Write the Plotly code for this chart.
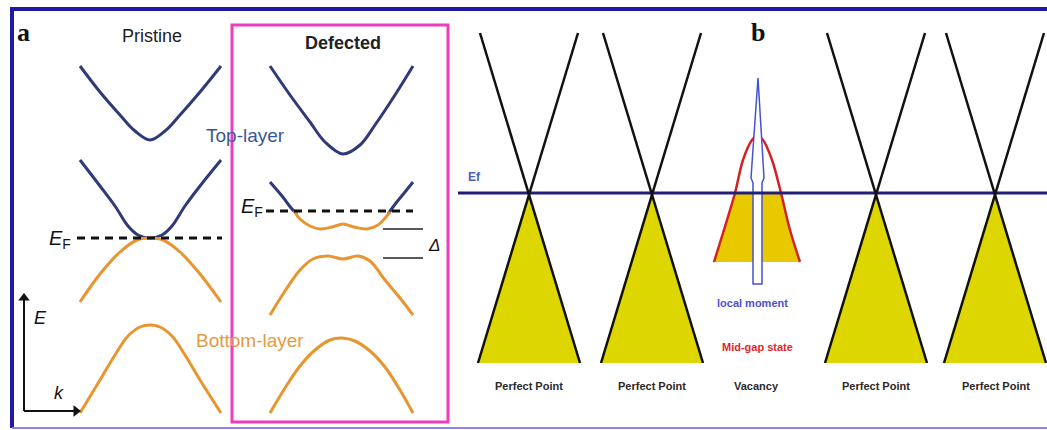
import plotly.graph_objects as go

# Canvas units: x to the right, y downward (0..1047 by 0..430)
W, H = 1047, 430

# ---------------- panel a: band diagrams ----------------
# Pristine bilayer
pristine_top_cb = [(80, 66), (100, 92), (120, 115), (135, 131), (150, 140),
                   (165, 131), (180, 115), (200, 92), (221, 66)]
pristine_low_cb = [(80, 160), (100, 186), (115, 206), (128, 226), (138, 235), (150, 238),
                   (162, 235), (172, 226), (185, 206), (200, 186), (221, 160)]
pristine_top_vb = [(80, 302), (100, 274), (120, 252), (137, 240), (150, 238),
                   (163, 240), (180, 252), (200, 274), (221, 302)]
pristine_low_vb = [(80, 413), (100, 380), (115, 355), (128, 336), (140, 327), (150, 325),
                   (160, 327), (172, 336), (185, 355), (200, 380), (221, 413)]

# Defected bilayer
defected_top_cb = [(270, 66), (290, 95), (310, 122), (325, 142), (343, 154),
                   (360, 145), (375, 125), (395, 95), (413, 66)]
defected_cb_left = [(270, 182), (282, 196), (292, 209), (297, 214)]
defected_midgap = [(294, 211), (300, 219), (310, 226), (320, 229), (332, 227), (343, 224),
                   (354, 227), (367, 229), (378, 225), (386, 217), (390, 212)]
defected_cb_right = [(388, 214), (396, 203), (405, 192), (413, 182)]
defected_top_vb = [(270, 315), (285, 291), (300, 270), (313, 259), (328, 256), (343, 259),
                   (358, 256), (370, 261), (385, 280), (400, 298), (413, 315)]
defected_low_vb = [(270, 413), (285, 388), (300, 366), (315, 350), (330, 340), (342, 338),
                   (355, 341), (370, 351), (385, 367), (400, 390), (413, 413)]

fermi_a_x = [(77, 222), (266, 413)]
fermi_a_y = [238, 211]
gap_levels = [229, 258]

# E-k axis corner and arrow tips
ek_origin = (24, 411)
ek_tips = [(24, 298), (76, 411)]
ek_tip_symbols = ["triangle-up", "triangle-right"]

# ---------------- panel b: Dirac cones ----------------
site_labels = ["Perfect Point", "Perfect Point", "Vacancy", "Perfect Point", "Perfect Point"]
site_x = [529, 652, 756, 876, 996]
cone_x = [529, 652, 876, 995]
ef_b = 193
cone_top, cone_base = 33, 363
cone_top_half, cone_base_half = 49, 51

midgap_curve = [(714, 262), (723, 233), (735, 193), (743, 160), (752, 140), (757, 136),
                (763, 140), (772, 160), (781, 193), (790, 230), (800, 262)]
midgap_fill = [(735, 193), (723, 233), (714, 262), (800, 262), (790, 230), (781, 193)]
moment_arrow = [(758, 78), (751, 178), (753, 183), (753, 284), (762, 284),
                (762, 183), (764, 178), (758, 78)]

NAVY = "#2e3b78"
ORANGE = "#e8952f"
YELLOW = "#ddd600"
GOLD = "#e8c900"

fig = go.Figure()


def curve(pts, color, width=3, shape="spline", dash=None, fill=None, fillcolor=None):
    fig.add_trace(go.Scatter(
        x=[p[0] for p in pts], y=[p[1] for p in pts], mode="lines",
        line=dict(color=color, width=width, shape=shape, dash=dash, smoothing=1.0),
        fill=fill, fillcolor=fillcolor, hoverinfo="skip", showlegend=False))


# panel a bands
for pts in [pristine_top_cb, pristine_low_cb, defected_top_cb, defected_cb_left, defected_cb_right]:
    curve(pts, NAVY)
for pts in [pristine_top_vb, pristine_low_vb, defected_midgap, defected_top_vb, defected_low_vb]:
    curve(pts, ORANGE)

for (x0, x1), y in zip(fermi_a_x, fermi_a_y):
    curve([(x0, y), (x1, y)], "#111111", width=3, shape="linear", dash="8px,6px")
for y in gap_levels:
    curve([(383, y), (423, y)], "#222222", width=1.5, shape="linear")

# E-k axes with arrow heads
for tip, sym in zip(ek_tips, ek_tip_symbols):
    curve([ek_origin, tip], "#111111", width=2, shape="linear")
    fig.add_trace(go.Scatter(x=[tip[0]], y=[tip[1]], mode="markers",
                             marker=dict(symbol=sym, size=10, color="#111111"),
                             hoverinfo="skip", showlegend=False))

# panel b: yellow filled valence cones
for cx in cone_x:
    curve([(cx, ef_b), (cx - cone_base_half, cone_base), (cx + cone_base_half, cone_base), (cx, ef_b)],
          YELLOW, width=0, shape="linear", fill="toself", fillcolor=YELLOW)
# vacancy mid-gap state
curve(midgap_fill, GOLD, width=0, shape="linear", fill="toself", fillcolor=GOLD)
curve(midgap_curve, "#d42222", width=2.5)
curve(moment_arrow, "#4652cf", width=1.5, shape="linear", fill="toself", fillcolor="#ffffff")

# Fermi level in panel b
curve([(458, ef_b), (W, ef_b)], "#231f78", width=3, shape="linear")

# cone branches
for cx in cone_x:
    curve([(cx - cone_top_half, cone_top), (cx + cone_base_half, cone_base)], "#111111", width=2.5, shape="linear")
    curve([(cx + cone_top_half, cone_top), (cx - cone_base_half, cone_base)], "#111111", width=2.5, shape="linear")

shapes = [
    dict(type="rect", x0=232, x1=448, y0=25, y1=422, line=dict(color="#ee3cbe", width=3)),
    dict(type="line", x0=10, x1=W, y0=9, y1=9, line=dict(color="#2218a6", width=4)),
    dict(type="line", x0=12, x1=12, y0=9, y1=428, line=dict(color="#2218a6", width=4)),
    dict(type="line", x0=12, x1=W, y0=428, y1=428, line=dict(color="#8f80ea", width=2)),
]

ARIAL = "Liberation Sans, Arial, sans-serif"
SERIF = "Liberation Serif, Times New Roman, serif"


def label(x, y, text, size, color="#222222", family=ARIAL, xanchor="center"):
    return dict(x=x, y=y, xref="x", yref="y", text=text, showarrow=False,
                font=dict(size=size, color=color, family=family),
                xanchor=xanchor, yanchor="middle")


annotations = [
    label(23, 32, "<b>a</b>", 26, "#111111", SERIF),
    label(152, 36, "Pristine", 18),
    label(343, 43, "<b>Defected</b>", 18),
    label(245, 135, "Top-layer", 19, "#3a5793"),
    label(250, 340, "Bottom-layer", 19, "#e39a45"),
    label(47, 239, "<i>E</i><sub>F</sub>", 20, "#111111", xanchor="left"),
    label(239, 207, "<i>E</i><sub>F</sub>", 20, "#111111", xanchor="left"),
    label(434, 245, "<i>Δ</i>", 17, "#111111"),
    label(40, 318, "<i>E</i>", 18, "#111111"),
    label(59, 393, "<i>k</i>", 18, "#111111"),
    label(758, 32, "<b>b</b>", 26, "#111111", SERIF),
    label(466, 177, "<b>Ef</b>", 12, "#4a5ec8", xanchor="left"),
    label(752, 303, "<b>local moment</b>", 11, "#4a50d0"),
    label(757, 347, "<b>Mid-gap state</b>", 11, "#e02828"),
]
for sx, name in zip(site_x, site_labels):
    annotations.append(label(sx, 386, "<b>%s</b>" % name, 11, "#2a2a2a"))

fig.update_layout(
    width=W, height=H, margin=dict(l=0, r=0, t=0, b=0),
    paper_bgcolor="#ffffff", plot_bgcolor="#ffffff",
    xaxis=dict(range=[0, W], visible=False, fixedrange=True),
    yaxis=dict(range=[H, 0], visible=False, fixedrange=True),
    shapes=shapes, annotations=annotations, showlegend=False,
)

fig.write_html("out.html")
